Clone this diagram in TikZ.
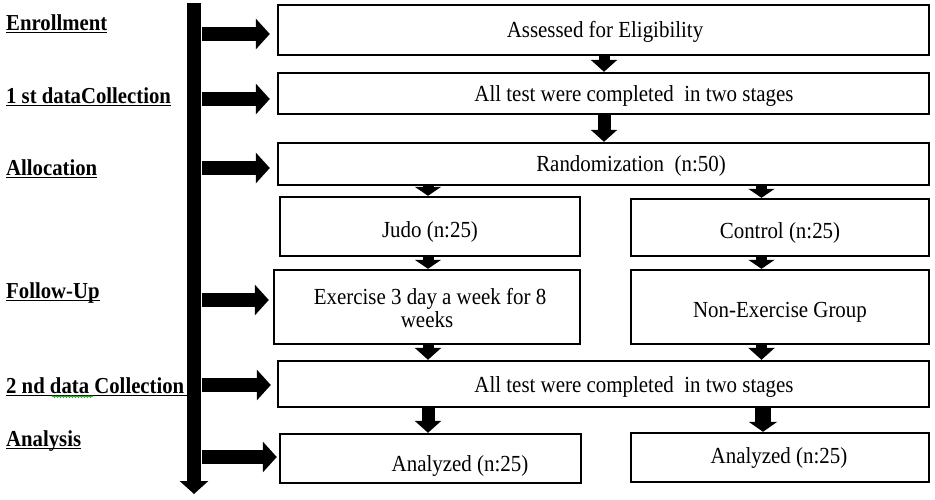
\documentclass[tikz,border=0pt]{standalone}
\usepackage{fontspec}
\setmainfont{Liberation Serif}[FakeStretch=0.91]
\usetikzlibrary{arrows.meta,decorations.pathmorphing}
\begin{document}
\begin{tikzpicture}[x=1pt,y=-1pt,
  box/.style={draw=black, line width=2.4pt, inner sep=0pt, fill=white},
  txt/.style={inner sep=0pt, anchor=base, font=\fontsize{23}{25}\selectfont},
  lab/.style={inner sep=0pt, anchor=base west, font=\fontsize{22.8}{25}\selectfont\bfseries},
  uline/.style={line width=1.6pt},
  sidearrow/.style={line width=14pt, -{Triangle[length=14pt,width=30pt]}},
  downA/.style={line width=11pt, -{Triangle[length=12pt,width=26pt]}},
  downB/.style={line width=13pt, -{Triangle[length=12pt,width=26pt]}},
  downS/.style={line width=11pt, -{Triangle[length=9pt,width=26pt]}},
  downW/.style={line width=16pt, -{Triangle[length=10pt,width=28pt]}},
  mainbar/.style={line width=14pt, -{Triangle[length=13pt,width=28pt]}}
]
\useasboundingbox (0,0) rectangle (935,499);

% boxes
\node[box, minimum width=651pt, minimum height=50pt] (b1) at (603.5,30) {};
\node[box, minimum width=651pt, minimum height=41pt] (b2) at (603.5,93.5) {};
\node[box, minimum width=651pt, minimum height=42pt] (b3) at (603.5,164) {};
\node[box, minimum width=300pt, minimum height=59pt] (judo) at (430,226.5) {};
\node[box, minimum width=298pt, minimum height=57pt] (ctrl) at (780,227.5) {};
\node[box, minimum width=306pt, minimum height=74pt] (ex) at (427,307) {};
\node[box, minimum width=298pt, minimum height=74pt] (nonex) at (780,307) {};
\node[box, minimum width=651pt, minimum height=46pt] (b5) at (603.5,384) {};
\node[box, minimum width=301pt, minimum height=49pt] (a1) at (430.5,458.5) {};
\node[box, minimum width=298pt, minimum height=49pt] (a2) at (780,457.5) {};

% box texts
\node[txt] (t1) at (605,37) {Assessed for Eligibility};
\node[txt] (t2) at (634,101) {All test were completed\ \ in two stages};
\node[txt] (t3) at (631,171) {Randomization\ \ (n:50)};
\node[txt] (t4) at (430,237) {Judo (n:25)};
\node[txt] (t5) at (780,238) {Control (n:25)};
\node[txt] (t6a) at (430,304) {Exercise 3 day a week for 8};
\node[txt] (t6b) at (427,327) {weeks};
\node[txt] (t7) at (780,317) {Non-Exercise Group};
\node[txt] (t8) at (634,392) {All test were completed\ \ in two stages};
\node[txt] (t9) at (460,471) {Analyzed (n:25)};
\node[txt] (t10) at (779,463) {Analyzed (n:25)};

% left labels
\node[lab] (l1) at (6,30) {Enrollment};
\node[lab] (l2) at (6,103) {1 st dataCollection};
\node[lab] (l3) at (6,175) {Allocation};
\node[lab] (l4) at (6,298) {Follow-Up};
\node[lab] (l5) at (6,393) {2 nd data Collection};
\node[lab] (l6) at (6,446) {Analysis};
\foreach \n in {l1,l2,l3,l4,l6}{
  \draw[uline] ([yshift=-2.5pt]\n.base west) -- ([yshift=-2.5pt]\n.base east);
}
\coordinate (u5) at ([yshift=-2.5pt]l5.base west);
\coordinate (barx) at (187,0);
\draw[uline] (u5) -- (barx |- u5);
% spell-check squiggle under "data"
\coordinate (sq1) at (52,396.5);
\coordinate (sq2) at (93,396.5);
\draw[green!60!black, line width=0.8pt, decorate, decoration={snake, amplitude=0.8pt, segment length=3pt}] (sq1) -- (sq2);

% main vertical bar
\coordinate (bartop) at (194,3);
\coordinate (barbot) at (194,494);
\draw[mainbar] (bartop) -- (barbot);

% side arrows
\coordinate (s1) at (202,34);
\coordinate (s2) at (202,99);
\coordinate (s3) at (202,168);
\coordinate (s4) at (202,300);
\coordinate (s5) at (202,385);
\coordinate (s6) at (202,457);
\draw[sidearrow, shorten >=7pt] (s1) -- (b1.west |- s1);
\draw[sidearrow, shorten >=7pt] (s2) -- (b2.west |- s2);
\draw[sidearrow, shorten >=7pt] (s3) -- (b3.west |- s3);
\draw[sidearrow, shorten >=4pt] (s4) -- (ex.west |- s4);
\draw[sidearrow, shorten >=6pt] (s5) -- (b5.west |- s5);
\draw[sidearrow, shorten >=2pt] (s6) -- (a1.west |- s6);

% vertical arrows
\coordinate (colM) at (604,0);
\coordinate (colL) at (428,0);
\coordinate (colR) at (761.5,0);
\coordinate (colR2) at (763,0);
\draw[downA] (colM |- b1.south) -- (colM |- b2.north);
\draw[downB] (colM |- b2.south) -- (colM |- b3.north);
\draw[downS] (colL |- b3.south) -- (colL |- judo.north);
\draw[downS] (colR |- b3.south) -- (colR |- ctrl.north);
\draw[downS] (colL |- judo.south) -- (colL |- ex.north);
\draw[downS] (colR |- ctrl.south) -- (colR |- nonex.north);
\draw[downA] (colL |- ex.south) -- (colL |- b5.north);
\draw[downA] (colR |- nonex.south) -- (colR |- b5.north);
\draw[downB] (colL |- b5.south) -- (colL |- a1.north);
\draw[downW] (colR2 |- b5.south) -- (colR2 |- a2.north);
\end{tikzpicture}
\end{document}
